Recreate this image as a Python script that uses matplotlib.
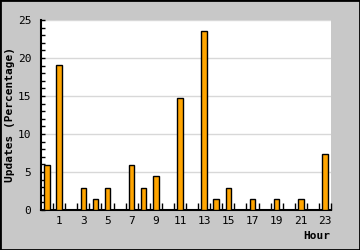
import numpy as np
import matplotlib.pyplot as plt
from matplotlib.patches import Rectangle

hours = list(range(24))
updates = [5.88, 19.12, 0, 2.94, 1.47, 2.94, 0, 5.88, 2.94, 4.41, 0, 14.71,
           0, 23.53, 1.47, 2.94, 0, 1.47, 0, 1.47, 0, 1.47, 0, 7.35]
xlabels = [str(h) for h in hours if h % 2 == 1]

plt.rcParams['font.family'] = ['DejaVu Sans Mono']

fig = plt.figure(figsize=(3.6, 2.5), dpi=100, facecolor='#c8c8c8')
ax = fig.add_axes([41 / 360, 40 / 250, 290 / 360, 190 / 250])
ax.set_facecolor('white')

ax.bar(hours, updates, width=0.45, color='#ffa500', edgecolor='black',
       linewidth=1, zorder=3)

ax.set_xlim(-0.5, 23.5)
ax.set_ylim(0, 25)
ax.set_yticks(range(0, 26, 5))
ax.set_yticks(range(0, 26), minor=True)
ax.grid(axis='y', which='major', color='#d8d8d8', linewidth=1, zorder=0)

ax.set_xticks([h for h in hours if h % 2 == 1])
ax.set_xticklabels(xlabels)
ax.set_xticks(np.arange(0.5, 24, 1), minor=True)
ax.tick_params(axis='x', which='major', length=0, pad=4, labelsize=8)
ax.tick_params(axis='x', which='minor', direction='in', length=5, width=1)
ax.tick_params(axis='y', which='both', direction='in', length=3, width=1,
               labelsize=8, pad=7)

for s in ['top', 'right']:
    ax.spines[s].set_visible(False)
for s in ['left', 'bottom']:
    ax.spines[s].set_linewidth(1.5)

ax.set_ylabel('Updates (Percentage)', fontsize=8, fontweight='bold', labelpad=2)
fig.text(330 / 360, 1 - 236 / 250, 'Hour', fontsize=8, fontweight='bold',
         ha='right', va='center')

fig.patches.append(Rectangle((0, 0), 1, 1, transform=fig.transFigure,
                             fill=False, edgecolor='black', linewidth=2))

fig.savefig('out.png', dpi=100, facecolor=fig.get_facecolor())
